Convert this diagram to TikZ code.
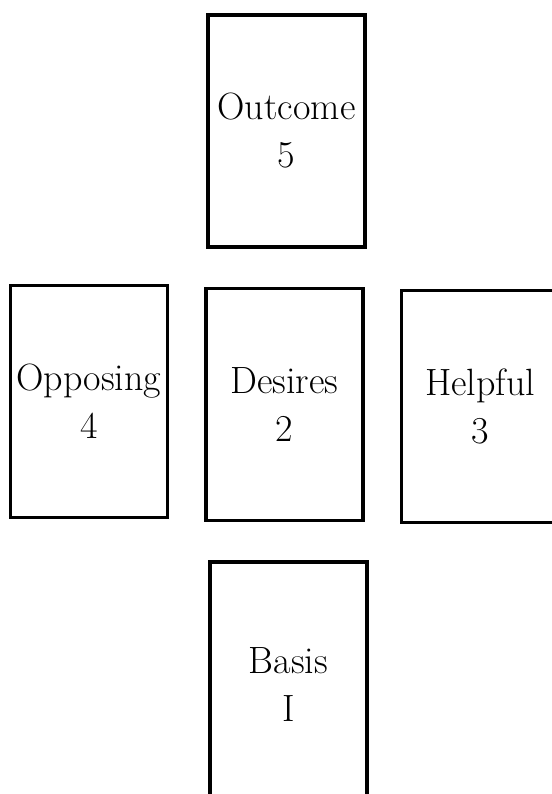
\documentclass[tikz,border=0pt]{standalone}
\usepackage{tikz}
\usetikzlibrary{positioning}

\begin{document}
\begin{tikzpicture}[
x=0.5pt, y=-0.5pt,
node distance=19pt and 17.5pt,
card/.style={draw, line width=1.8pt, minimum width=78.5pt, minimum height=116pt, inner sep=0pt, align=center, font=\fontsize{19}{24}\selectfont}
]
\useasboundingbox (0,0) rectangle (552,794);

\node[card] (desires) at (284.5,404.5) {Desires\\2};
\node[card, above=of desires, xshift=1pt] (outcome) {Outcome\\5};
\node[card, left=of desires, yshift=1.5pt] (opposing) {Opposing\\4};
\node[card, right=of desires, yshift=-1pt] (helpful) {Helpful\\3};
% lower edge runs off the page
\node[card, below=of desires, xshift=2pt, minimum height=122pt] (basis) {Basis\\I};
\end{tikzpicture}
\end{document}
